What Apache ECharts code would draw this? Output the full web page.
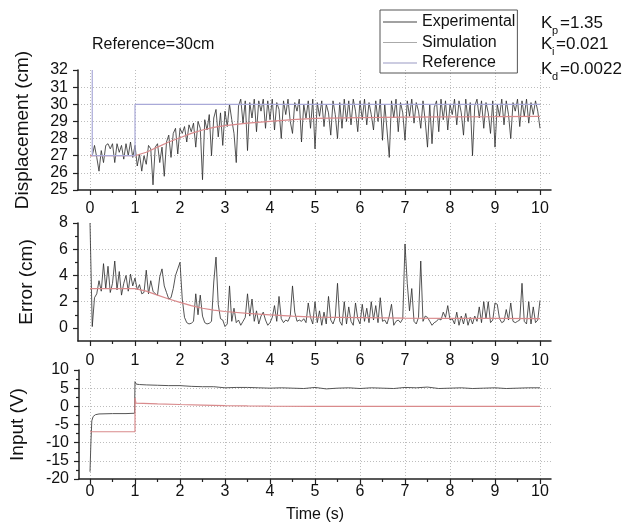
<!DOCTYPE html>
<html><head><meta charset="utf-8">
<script src="https://cdn.jsdelivr.net/npm/echarts@6/dist/echarts.min.js"></script>
<style>html,body{margin:0;padding:0;background:#fff}#c{width:623px;height:526px}</style>
</head><body><div id="c"></div>
<script>
// ---------- data ----------
const DT = 0.05; // sampling step (s) of the experimental traces
const timeTicks = [0,1,2,3,4,5,6,7,8,9,10];
const errTicks = [0,2,4,6,8];
const errMinorTicks = [1,3,5,7];

// Displacement, experimental (cm), every 0.05 s from 0 to 10 s
const dispExp = [
 27.0,27.0,27.6,26.9,26.1,27.3,26.6,27.6,27.7,27.4,27.7,26.6,27.7,27.2,27.6,26.8,27.7,27.0,27.8,26.9,
 27.6,26.4,27.1,26.1,27.0,26.5,27.6,27.4,25.3,27.5,27.7,26.6,27.5,25.8,27.8,28.2,26.9,28.3,28.6,27.1,
 28.6,28.3,28.7,27.8,28.8,28.4,28.9,27.5,29.0,28.6,25.6,29.1,28.5,29.4,27.0,29.2,29.7,28.1,29.5,27.6,
 29.6,28.7,30.0,29.1,28.3,26.6,29.9,30.3,28.9,30.2,27.3,30.1,29.2,30.3,28.4,30.2,29.6,30.3,28.6,30.2,
 29.1,30.3,28.5,30.1,29.7,28.0,30.2,29.4,30.3,29.0,28.3,30.1,29.6,30.3,27.8,30.0,29.2,30.2,28.6,30.3,
 27.4,30.1,29.3,30.2,28.7,30.0,29.5,28.2,30.2,29.4,28.0,30.1,28.6,30.3,29.0,30.2,28.8,30.3,29.6,28.4,
 30.2,29.1,30.3,28.8,30.1,29.4,28.5,30.2,29.0,30.3,27.9,30.0,28.5,26.9,30.2,29.2,30.3,28.4,30.1,29.5,
 27.9,30.2,29.3,30.3,28.9,30.1,29.6,28.6,30.2,29.0,27.5,30.0,27.7,29.8,30.2,28.4,30.3,29.1,30.2,28.5,
 30.0,29.4,30.3,28.8,30.2,29.5,28.2,30.3,29.0,30.1,27.0,29.9,30.3,29.2,30.2,28.6,30.1,29.5,28.3,30.2,
 27.5,30.0,29.3,30.3,28.8,30.2,29.4,28.0,30.1,29.6,30.3,28.7,30.2,29.3,30.3,28.9,30.1,29.4,30.2,29.6,
 28.6
];
// Displacement, simulation [t, cm]
const dispSim = [[0,27],[1,27],[1.25,27.2],[1.5,27.5],[1.75,27.8],[2,28.05],[2.25,28.3],[2.5,28.5],
 [2.75,28.65],[3,28.75],[3.5,28.9],[4,29.0],[4.5,29.1],[5,29.18],[6,29.22],[7,29.25],[8,29.27],[9,29.28],[10,29.3]];
// Displacement, reference [t, cm]
const dispRef = [[0.05,32],[0.05,27],[1,27],[1,30],[10,30]];

// Error, experimental (cm), every 0.05 s
const errExp = [
 8,0.1,2.3,2.6,3.6,2.8,4.9,3.0,4.7,2.7,3.4,5.1,2.9,4.3,2.5,3.4,4.0,2.8,4.1,3.2,
 3.8,2.9,3.3,2.6,2.7,4.4,2.6,3.6,2.8,2.6,2.5,3.9,4.5,3.2,2.7,2.2,2.3,3.0,4.0,4.5,
 5.0,2.2,0.8,0.4,0.3,0.35,0.5,2.6,1.0,2.5,0.9,0.4,0.3,0.35,0.5,3.5,5.4,1.8,0.7,0.6,
 0.1,0.3,3.2,0.5,1.5,0.4,0.6,0.2,0.5,0.8,2.6,0.9,2.2,0.5,1.3,0.3,0.9,1.2,0.6,0.2,
 0.4,0.8,1.7,0.5,2.4,0.7,0.4,0.6,0.5,0.9,3.2,1.2,0.5,0.6,0.5,0.7,0.4,1.9,0.8,0.3,
 2.0,0.4,1.3,0.2,1.2,0.3,2.4,0.6,0.3,0.8,3.4,0.5,0.2,2.0,0.3,1.6,0.5,0.2,1.9,0.7,
 0.3,1.8,0.5,1.5,0.4,2.0,0.6,1.7,0.4,2.3,0.5,0.6,0.3,0.9,1.8,0.2,0.5,0.6,0.4,0.7,
 6.4,3.4,1.3,3.0,0.5,0.3,0.8,5.1,0.5,0.9,0.8,0.5,0.2,0.4,0.5,0.7,0.6,1.2,0.8,1.7,
 0.6,0.7,0.3,1.2,0.2,0.9,0.3,1.1,0.2,0.8,0.3,0.9,0.5,1.6,0.4,2.0,0.7,2.0,0.4,0.6,
 1.9,1.8,0.7,0.4,0.5,1.4,0.6,1.9,0.5,0.4,0.5,0.6,3.4,0.5,0.3,2.0,0.3,1.6,0.4,0.6,
 2.1
];
// Error, simulation [t, cm]
const errSim = [[0,3],[1,3],[1.25,2.8],[1.5,2.5],[1.75,2.2],[2,1.95],[2.25,1.7],[2.5,1.5],[2.75,1.35],
 [3,1.25],[3.5,1.1],[4,1.0],[4.5,0.9],[5,0.82],[6,0.78],[7,0.75],[8,0.73],[9,0.72],[10,0.7]];

// Input, experimental [t, V]
const inputExp = [[0,-18],[0.02,-10],[0.04,-4],[0.07,-2.8],[0.12,-2.3],[0.2,-2.1],[0.5,-2.0],[0.8,-2.0],[0.99,-1.9],
 [1.0,6.8],[1.03,6.1],[1.1,6.0],[1.25,5.9],[1.5,5.8],[1.75,5.7],[2,5.7],[2.25,5.5],[2.5,5.4],[2.75,5.4],[3,5.1],
 [3.25,5.2],[3.5,5.2],[3.75,5.1],[4,5.0],[4.25,5.1],[4.5,5.0],[4.75,4.9],[5,5.2],[5.25,4.8],[5.5,5.0],[5.75,5.1],
 [6,4.9],[6.25,5.1],[6.5,5.0],[6.75,4.9],[7,5.2],[7.25,5.1],[7.5,5.3],[7.75,4.9],[8,5.0],[8.25,5.1],[8.5,4.9],
 [8.75,5.0],[9,5.1],[9.25,4.9],[9.5,5.0],[9.75,5.1],[10,5.1]];
// Input, simulation [t, V]
const inputSim = [[0,-7],[1,-7],[1,2.3],[1.02,0.9],[1.5,0.7],[2,0.5],[2.5,0.35],[3,0.2],[3.5,0.1],[4,0.05],[5,0],[10,0]];

// ---------- chart ----------
const F = "'Liberation Sans', Arial, sans-serif";
const tOf = i => Math.round(i * DT * 100) / 100;
const pairs = arr => arr.map((v, i) => [tOf(i), v]);

const C_EXP = '#2a2a2a', C_SIM = '#d98a8c', C_REF = '#a9a9d8';
const AX = '#222';
const dotted = {show: true, lineStyle: {type: [1, 2], color: '#bdbdbd', width: 1}};

const panels = [
  {top: 70, height: 120, left: 78},
  {top: 223, height: 118, left: 78},
  {top: 370, height: 109, left: 78}
];
const grid = [];
panels.forEach(p => {
  grid.push({left: p.left, right: 72, top: p.top, height: p.height});
  grid.push({left: 90, right: 83, top: p.top, height: p.height});
});

const lab = (m) => ({fontSize: 16, fontFamily: F, color: '#111', margin: m});
const xAxis = [];
[11, 12, 5].forEach((m, k) => {
  xAxis.push({type: 'value', gridIndex: 2*k, min: 0, max: 1,
    axisLine: {show: true, onZero: false, lineStyle: {color: AX, width: 1.5}},
    axisTick: {show: false}, axisLabel: {show: false}, splitLine: {show: false}});
  const ax = {type: 'value', gridIndex: 2*k+1, min: timeTicks[0], max: timeTicks[timeTicks.length-1], interval: 1,
    axisLine: {show: false, onZero: false}, axisTick: {show: true, length: 5, lineStyle: {color: AX, width: 1.2}},
    minorTick: {show: true, splitNumber: 2, length: 3, lineStyle: {color: AX, width: 1.2}},
    axisLabel: lab(m), splitLine: dotted};
  if (k === 2) {
    ax.name = 'Time (s)'; ax.nameLocation = 'middle'; ax.nameGap = 28;
    ax.nameTextStyle = {fontSize: 16, fontFamily: F, color: '#111'};
  }
  xAxis.push(ax);
});

const nameStyle = {fontSize: 19, fontFamily: F, color: '#111'};
const yLine = {show: true, onZero: false, lineStyle: {color: AX, width: 1.5}};
const yAxis = [
  {type: 'value', gridIndex: 0, min: 25, max: 32, interval: 1, name: 'Displacement (cm)', nameLocation: 'middle', nameGap: 46,
   nameTextStyle: nameStyle, axisLine: yLine,
   axisTick: {show: true, length: 5, lineStyle: {color: AX, width: 1.2}}, axisLabel: lab(10),
   splitLine: Object.assign({showMinLine: false, showMaxLine: false}, dotted)},
  {type: 'value', gridIndex: 1, min: 25, max: 32, show: false},
  {type: 'value', gridIndex: 2, min: -1, max: 8, name: 'Error (cm)', nameLocation: 'middle', nameGap: 42,
   nameTextStyle: nameStyle, axisLine: yLine,
   axisTick: {show: true, length: 5, customValues: errTicks, lineStyle: {color: AX, width: 1.2}},
   axisLabel: Object.assign({customValues: errTicks}, lab(10)),
   splitLine: Object.assign({showMinLine: false, showMaxLine: false}, dotted)},
  {type: 'value', gridIndex: 3, min: -1, max: 8, show: false},
  {type: 'value', gridIndex: 4, min: -20, max: 10, interval: 5, name: 'Input (V)', nameLocation: 'middle', nameGap: 52,
   nameTextStyle: nameStyle, axisLine: yLine,
   axisTick: {show: true, length: 5, lineStyle: {color: AX, width: 1.2}},
   minorTick: {show: true, splitNumber: 2, length: 3, lineStyle: {color: AX, width: 1.2}}, axisLabel: lab(10),
   splitLine: Object.assign({showMinLine: false, showMaxLine: false}, dotted)},
  {type: 'value', gridIndex: 5, min: -20, max: 10, show: false},
  {type: 'value', gridIndex: 2, min: -1, max: 8, position: 'left', axisLine: {show: false, onZero: false},
   axisTick: {show: true, length: 3, customValues: errMinorTicks, lineStyle: {color: AX, width: 1.2}},
   axisLabel: {show: false}, splitLine: {show: false}}
];

const line = (name, data, xi, color, w) => ({
  type: 'line', name, data, xAxisIndex: xi, yAxisIndex: xi, showSymbol: false, symbol: 'none',
  lineStyle: {color, width: w}, itemStyle: {color}, animation: false, z: name === 'Experimental' ? 3 : 4
});

const series = [
  line('Experimental', pairs(dispExp), 1, C_EXP, 0.8),
  line('Simulation', dispSim, 1, C_SIM, 1.2),
  line('Reference', dispRef, 1, C_REF, 1.2),
  line('Experimental', pairs(errExp), 3, C_EXP, 0.8),
  line('Simulation', errSim, 3, C_SIM, 1.2),
  line('Experimental', inputExp, 5, '#555', 1),
  line('Simulation', inputSim, 5, C_SIM, 1.2)
];

const txt = (x, y, s, size) => ({type: 'text', left: x, top: y, silent: true,
  style: {text: s, fontSize: size, fontFamily: F, fill: '#111'}});

const option = {
  backgroundColor: '#fff',
  animation: false,
  grid, xAxis, yAxis, series,
  legend: {
    left: 380, top: 10, orient: 'vertical', icon: 'rect', itemWidth: 34, itemHeight: 1, itemGap: 2.5,
    padding: [3, 2, 1, 3], borderColor: '#555', borderWidth: 1, selectedMode: false,
    textStyle: {fontSize: 16, fontFamily: F, color: '#111', lineHeight: 18},
    data: [{name: 'Experimental', itemStyle: {color: '#444'}},
           {name: 'Simulation', itemStyle: {color: '#aaaaaa'}},
           {name: 'Reference', itemStyle: {color: '#9a9ac4'}}]
  },
  graphic: [
    txt(92, 37, 'Reference=30cm', 16),
    txt(541, 15, 'K', 17), txt(552, 25, 'p', 11), txt(560, 15, '=1.35', 17),
    txt(541, 36, 'K', 17), txt(552, 46, 'i', 11), txt(556, 36, '=0.021', 17),
    txt(541, 61, 'K', 17), txt(552, 71, 'd', 11), txt(560, 61, '=0.0022', 17)
  ]
};
const chart = echarts.init(document.getElementById('c'), null, {renderer: 'canvas'});
chart.setOption(option);
</script></body></html>
